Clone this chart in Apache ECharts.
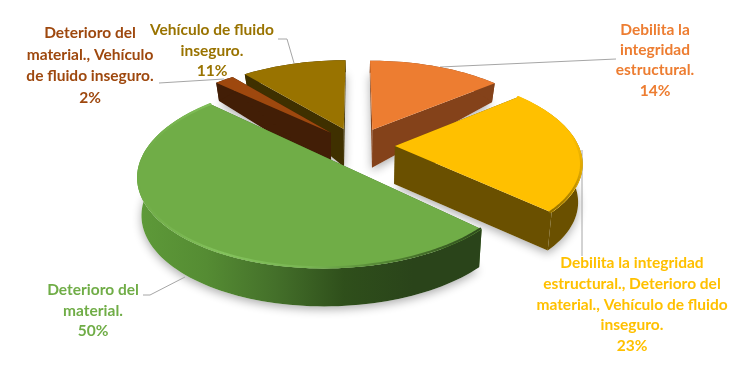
<!DOCTYPE html>
<html><head><meta charset="utf-8">
<style>html,body{margin:0;padding:0;background:#fff}#c{width:738px;height:390px}</style>
<script src="https://cdn.jsdelivr.net/npm/echarts@6/dist/echarts.min.js"></script>
</head><body><div id="c"></div>
<script>
const categories = [
  "Debilita la\nintegridad\nestructural.",
  "Debilita la integridad\nestructural., Deterioro del\nmaterial., Vehículo de fluido\ninseguro.",
  "Deterioro del\nmaterial.",
  "Deterioro del\nmaterial., Vehículo\nde fluido inseguro.",
  "Vehículo de fluido\ninseguro."
];
const values = [14, 23, 50, 2, 11];
const drawOrder = [0, 4, 3, 1, 2];

const G = echarts.graphic;
const lin = (x0,y0,x1,y1,stops)=>new G.LinearGradient(x0,y0,x1,y1,stops.map((c,i)=>({offset:i/(stops.length-1),color:c})));
const looks = [
  {top:'#ED7D31', cut:'#84421A', wall:'#84421A', text:'#ED7D31', lab:[655,30,20.2], lead:[[440,67],[616,59]]},
  {top:'#FFC000', cut:'#6A5000', wall:'#6A5000', text:'#FFC000', lab:[632,263,20.8], lead:[[582,150],[582,256]],
   rim:lin(0,0,0,1,['#FFC000','#FFC000','#D9A300','#8A6A00'])},
  {top:'#70AD47', cut:'#3E6A22', text:'#70AD47', lab:[93,290,20.5], lead:[[143,295],[150,295],[185,277]],
   wall:lin(0,0,1,0,['#5E9A39','#558C33','#44702A','#2F4F1B','#2A441A','#2A441A']),
   rim:lin(0,0,1,0,['#6FAB46','#83C25C','#78B552','#4F7F30','#2D4A1B'])},
  {top:'#9E480E', cut:'#421E06', wall:'#421E06', text:'#9E480E', lab:[90,33,21.6], lead:[[159,83],[224,79]]},
  {top:'#997300', cut:'#3F3000', wall:'#3F3000', text:'#997300', lab:[212,30,20.5], lead:[[278,39],[287,39],[294,63]]}
];
const CX=356.4, CY=145.5, A=183.5, B=85.7, P=0.17, E=0.21;
const total = values.reduce((a,b)=>a+b,0);
const project=(X,Y)=>{const w=1+P*Y;return [CX+A*X/w, CY-B*Y/w];};
const lower=(pt)=>{const d=Math.max(12,Math.min(38,12+(pt[1]-72)*0.6));return [CX+(pt[0]-CX)*0.98, pt[1]+d];};

function geom(i, r){
  let before=0; for(let k=0;k<i;k++) before+=values[k];
  const a0=Math.PI/2-before/total*2*Math.PI;
  const a1=a0-values[i]/total*2*Math.PI;
  const m=(a0+a1)/2, ox=E*Math.cos(m), oy=E*Math.sin(m);
  const n=Math.max(6,Math.round(values[i]*2));
  const arc=[];
  for(let k=0;k<=n;k++){const t=a0+(a1-a0)*k/n;arc.push(project(ox+r*Math.cos(t),oy+r*Math.sin(t)));}
  const tip=project(ox,oy);
  return {arc,tip,n};
}
const poly=(pts,fill,extra)=>({type:'polygon',shape:{points:pts},style:Object.assign({fill:fill,stroke:null},extra||{}),silent:true});

function renderShadow(params, api){
  const g=geom(api.value(0),1);
  const pts=[lower(g.tip)].concat(g.arc.map(lower));
  return poly(pts,'#fff',{shadowBlur:10,shadowColor:'rgba(0,0,0,0.32)',shadowOffsetY:3});
}

function renderSlice(params, api){
  const i=api.value(0), g=geom(i,1), L=looks[i];
  const arc=g.arc, n=g.n, tip=g.tip;
  const arcLow=arc.map(lower), tipLow=lower(tip);
  const kids=[
    poly([tip,arc[0],arcLow[0],tipLow],L.cut),
    poly([tip,arc[n],arcLow[n],tipLow],L.cut),
    poly(arc.concat(arcLow.slice().reverse()),L.wall),
    poly([tip].concat(arc),L.top)
  ];
  if(L.rim){
    kids.push({type:'polyline',shape:{points:geom(i,0.992).arc},style:{fill:null,stroke:L.rim,lineWidth:2.2,lineCap:'round'},silent:true});
  }
  return {type:'group',children:kids};
}

function renderLabel(params, api){
  const i=api.value(0), L=looks[i];
  const lines=(categories[i]+"\n"+values[i]+"%").split("\n");
  const kids=lines.map((s,k)=>({type:'text',style:{
    text:s,x:L.lab[0],y:L.lab[1]+k*L.lab[2],align:'center',verticalAlign:'middle',
    fill:L.text,font:'bold 15.5px Lato'},silent:true}));
  kids.push({type:'polyline',shape:{points:L.lead},style:{fill:null,stroke:'#A6A6A6',lineWidth:1},silent:true});
  return {type:'group',children:kids};
}

const chart=echarts.init(document.getElementById('c'),null,{renderer:'canvas'});
const sliceData=drawOrder.map(i=>({value:[i,values[i]],name:categories[i]}));
chart.setOption({
  animation:false,
  backgroundColor:'#fff',
  series:[
    {type:'custom',coordinateSystem:'none',renderItem:renderShadow,z:1,silent:true,data:sliceData},
    {type:'custom',coordinateSystem:'none',renderItem:renderLabel,z:2,silent:true,
     data:values.map((v,i)=>({value:[i,v],name:categories[i]}))},
    {type:'custom',coordinateSystem:'none',renderItem:renderSlice,z:3,silent:true,data:sliceData}
  ]
});
</script></body></html>
